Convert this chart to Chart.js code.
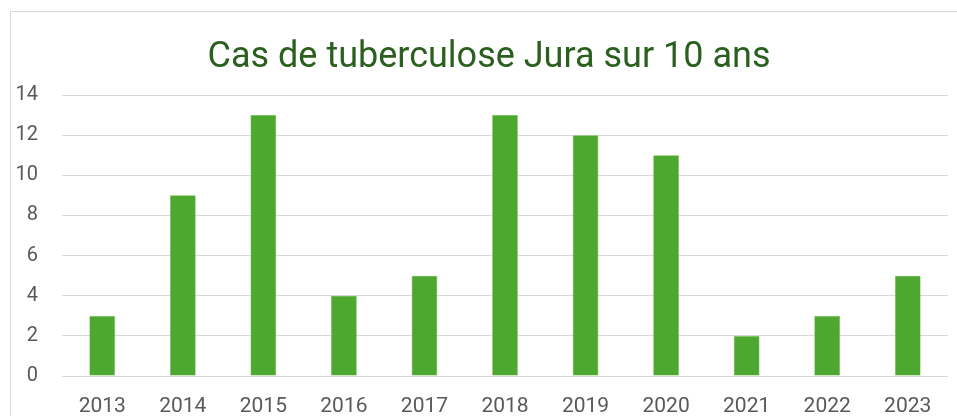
<!DOCTYPE html>
<html>
<head>
<meta charset="utf-8">
<script src="https://cdn.jsdelivr.net/npm/chart.js@4/dist/chart.umd.min.js"></script>
<style>
  body { margin: 0; background: #fff; }
  #wrap { width: 957px; height: 416px; }
</style>
</head>
<body>
<div id="wrap"><canvas id="tbChart" width="957" height="416"></canvas></div>
<script>
// Données
const annees = ["2013", "2014", "2015", "2016", "2017", "2018", "2019", "2020", "2021", "2022", "2023"];
const cas = [3, 9, 13, 4, 5, 13, 12, 11, 2, 3, 5];
const titre = "Cas de tuberculose Jura sur 10 ans";

// Cadre gris + titre (centré comme dans Excel)
const cadre = {
    id: "cadre",
    beforeDraw(chart) {
        const c = chart.ctx;
        c.save();
        c.strokeStyle = "#d9d9d9";
        c.lineWidth = 1;
        c.strokeRect(10.5, 11.5, 970, 420);
        c.fillStyle = "#2a5f1e";
        c.font = "36px Roboto";
        c.textAlign = "center";
        c.textBaseline = "alphabetic";
        c.fillText(titre, 489, 67);
        c.restore();
    }
};

const ctx = document.getElementById("tbChart").getContext("2d");
new Chart(ctx, {
    type: "bar",
    data: {
        labels: annees,
        datasets: [{
            label: "Cas",
            data: cas,
            backgroundColor: "#4ea72e",
            borderColor: "#6cbf4c",
            borderWidth: 0.6,
            barPercentage: 0.32,
            categoryPercentage: 1.0,
        }],
    },
    options: {
        responsive: false,
        animation: false,
        layout: { padding: { left: 0, right: 9, top: 95, bottom: 0 } },
        plugins: {
            legend: { display: false },
            tooltip: { enabled: false },
            title: { display: false },
        },
        scales: {
            x: {
                grid: { display: false, drawTicks: false },
                border: { display: false },
                ticks: { color: "#595959", font: { family: "Roboto", size: 21 }, padding: 18, maxRotation: 0 },
                afterFit(scale) { scale.height = 40; },
            },
            y: {
                min: 0,
                max: 14,
                ticks: { stepSize: 2, color: "#595959", font: { family: "Roboto", size: 20 }, padding: 24 },
                grid: { color: "#d9d9d9", lineWidth: 1, drawTicks: false },
                border: { display: false },
                afterFit(scale) { scale.width = 62; },
            },
        },
    },
    plugins: [cadre],
});
</script>
</body>
</html>
